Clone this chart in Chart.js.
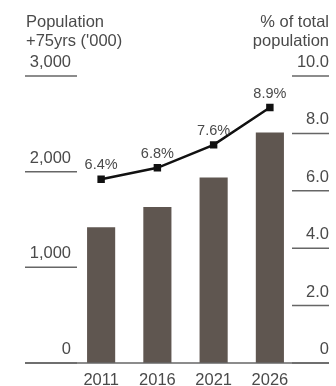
<!DOCTYPE html>
<html>
<head>
<meta charset="utf-8">
<script src="https://cdn.jsdelivr.net/npm/chart.js@4"></script>
<style>
  html, body { margin: 0; padding: 0; background: #fff; overflow: hidden; }
</style>
</head>
<body>
<canvas id="chart-pop" width="336" height="386"></canvas>
<script>
// Population aged 75+ ('000) with share of total population
const years = ['2011', '2016', '2021', '2026'];
const population = [1420, 1630, 1940, 2410];
const sharePct = [6.4, 6.8, 7.6, 8.9];
const popTicks = [0, 1000, 2000, 3000];
const pctTicks = [0, 2, 4, 6, 8, 10];

const textColor = '#4a4a4a';
const ruleColor = '#666';
const fontFamily = '"Liberation Sans", Arial, sans-serif';

// Axis labels sit on short rules at each side, drawn from the scales
const axisDecor = {
	id: 'axisDecor',
	afterDraw(chart) {
		const ctx = chart.ctx;
		const yPop = chart.scales.yPop;
		const yPct = chart.scales.yPct;
		const x = chart.scales.x;

		ctx.save();
		ctx.fillStyle = textColor;
		ctx.strokeStyle = ruleColor;
		ctx.lineWidth = 1.5;

		// titles
		ctx.font = '16.5px ' + fontFamily;
		ctx.textAlign = 'left';
		ctx.textBaseline = 'alphabetic';
		ctx.fillText('Population', 26, 27);
		ctx.fillText("+75yrs ('000)", 26, 46);
		ctx.textAlign = 'right';
		ctx.fillText('% of total', 329, 27);
		ctx.fillText('population', 329, 46);

		// left ticks
		popTicks.forEach(v => {
			const y = yPop.getPixelForValue(v);
			ctx.textAlign = 'right';
			ctx.fillText(v.toLocaleString('en-US'), 71, y - 9);
			ctx.beginPath();
			ctx.moveTo(25, y);
			ctx.lineTo(77, y);
			ctx.stroke();
		});

		// right ticks
		pctTicks.forEach(v => {
			const y = yPct.getPixelForValue(v);
			ctx.textAlign = 'right';
			ctx.fillText(v === 0 ? '0' : v.toFixed(1), 329, y - 9);
			ctx.beginPath();
			ctx.moveTo(292, y);
			ctx.lineTo(329, y);
			ctx.stroke();
		});

		// baseline
		const y0 = yPop.getPixelForValue(0);
		ctx.beginPath();
		ctx.moveTo(25, y0);
		ctx.lineTo(329, y0);
		ctx.stroke();

		// years
		ctx.textAlign = 'center';
		years.forEach((lbl, i) => {
			ctx.fillText(lbl, x.getPixelForValue(i), 385);
		});

		// share labels above the line points
		ctx.font = '14.5px ' + fontFamily;
		const meta = chart.getDatasetMeta(1);
		meta.data.forEach((pt, i) => {
			ctx.fillText(sharePct[i].toFixed(1) + '%', pt.x, pt.y - 10);
		});

		ctx.restore();
	}
};

new Chart(document.getElementById('chart-pop'), {
	data: {
		labels: years,
		datasets: [
			{
				type: 'bar',
				label: 'Population +75yrs',
				data: population,
				yAxisID: 'yPop',
				backgroundColor: '#5f5650',
				barPercentage: 0.5,
				categoryPercentage: 1,
				order: 2
			},
			{
				type: 'line',
				label: '% of total population',
				data: sharePct,
				yAxisID: 'yPct',
				borderColor: '#111',
				backgroundColor: '#111',
				borderWidth: 2.5,
				pointStyle: 'rect',
				pointRadius: 3.5,
				tension: 0,
				order: 1
			}
		]
	},
	options: {
		responsive: false,
		animation: false,
		layout: { padding: { left: 73, right: 38, top: 76, bottom: 23 } },
		plugins: {
			legend: { display: false },
			tooltip: { enabled: false }
		},
		scales: {
			x: { display: false, offset: true },
			yPop: { display: false, position: 'left', min: 0, max: 3000 },
			yPct: { display: false, position: 'right', min: 0, max: 10 }
		}
	},
	plugins: [axisDecor]
});
</script>
</body>
</html>
